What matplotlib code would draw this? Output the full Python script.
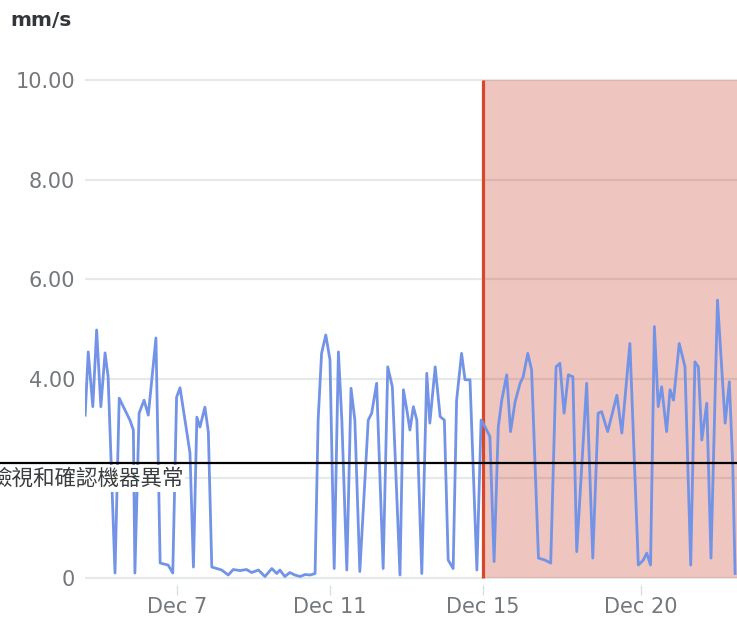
import matplotlib
matplotlib.use("Agg")
import matplotlib.pyplot as plt
import matplotlib.transforms as mtransforms
from matplotlib.lines import Line2D

# vibration speed samples (x = day position on the chart axis, y = mm/s)
t_days = [4.60, 4.68, 4.80, 4.90, 5.01, 5.12, 5.20, 5.38, 5.49, 5.77, 5.86, 5.90, 6.01, 6.14,
          6.25, 6.45, 6.56, 6.77, 6.89, 6.99, 7.08, 7.34, 7.43, 7.52, 7.60, 7.73, 7.82, 7.91,
          8.04, 8.17, 8.34, 8.47, 8.65, 8.82, 8.95, 9.13, 9.30, 9.48, 9.61, 9.69, 9.82, 9.95,
          10.08, 10.22, 10.35, 10.48, 10.61,
          10.69, 10.78, 10.89, 11.00, 11.11, 11.22, 11.31, 11.44, 11.55, 11.65, 11.78, 12.00,
          12.09, 12.22, 12.39, 12.51, 12.63, 12.83, 12.92, 13.01, 13.09, 13.18, 13.27, 13.40,
          13.53, 13.61, 13.75, 13.88, 13.99, 14.09, 14.22, 14.31, 14.44, 14.53, 14.66, 14.84,
          14.95, 15.05, 15.18, 15.29, 15.40, 15.49, 15.62, 15.72, 15.84, 15.97, 16.05, 16.17,
          16.27, 16.45, 16.62, 16.77, 16.91, 17.01, 17.12, 17.23, 17.35, 17.45, 17.71, 17.87,
          18.01, 18.10, 18.26, 18.50, 18.63, 18.84, 19.06, 19.19, 19.28, 19.38, 19.48, 19.58,
          19.67, 19.80, 19.89, 19.98, 20.13, 20.28, 20.43, 20.54, 20.63, 20.72, 20.85, 20.96,
          21.13, 21.33, 21.44, 21.53, 21.59]
speed = [3.27, 4.54, 3.44, 4.98, 3.44, 4.52, 4.04, 0.10, 3.61, 3.17, 2.97, 0.10, 3.31, 3.57,
         3.27, 4.82, 0.30, 0.26, 0.10, 3.63, 3.82, 2.51, 0.22, 3.23, 3.03, 3.43, 2.93, 0.22,
         0.19, 0.16, 0.06, 0.17, 0.15, 0.17, 0.11, 0.16, 0.03, 0.19, 0.09, 0.16, 0.03, 0.11,
         0.06, 0.03, 0.07, 0.06, 0.09,
         3.17, 4.51, 4.88, 4.38, 0.19, 4.54, 3.17, 0.16, 3.81, 3.17, 0.13, 3.17,
         3.31, 3.91, 0.19, 4.24, 3.84, 0.06, 3.78, 3.37, 2.97, 3.44, 3.17, 0.09,
         4.11, 3.11, 4.24, 3.24, 3.17, 0.36, 0.19, 3.57, 4.51, 3.98, 3.98, 0.16,
         3.17, 3.04, 2.84, 0.33, 3.04, 3.57, 4.08, 2.94, 3.54, 3.91, 4.04, 4.51,
         4.18, 0.40, 0.36, 0.30, 4.24, 4.31, 3.31, 4.08, 4.04, 0.53, 3.91, 0.40,
         3.31, 3.34, 2.94, 3.67, 2.91, 4.71, 0.26, 0.36, 0.50, 0.26, 5.05, 3.44,
         3.84, 2.94, 3.78, 3.57, 4.71, 4.24, 0.26, 4.34, 4.24, 2.77, 3.51, 0.40,
         5.58, 3.11, 3.94, 2.24, 0.09]

x_ticks = [7, 11, 15, 19.13]
x_labels = ['Dec 7', 'Dec 11', 'Dec 15', 'Dec 20']
y_ticks = [0, 2, 4, 6, 8, 10]
y_labels = ['0', '2.00', '4.00', '6.00', '8.00', '10.00']
x_range = (4.595, 21.64)
y_range = (-0.15, 10.15)

alarm_start = 15.0
alarm_top = 10
threshold = 2.31
note = '檢視和確認機器異常'
unit = 'mm/s'

plt.rcParams['font.family'] = ['DejaVu Sans']

fig = plt.figure(figsize=(7.37, 6.17), dpi=100)
ax = fig.add_axes([0.1153, 0.0511, 0.8847, 0.8314])

# alarm zone
ax.fill_between([alarm_start, x_range[1]], 0, alarm_top, color='#c8402e', alpha=0.3,
                lw=0, zorder=2)
ax.plot([alarm_start, alarm_start], [0, alarm_top], color='#d9472b', lw=2.3, zorder=3,
        solid_capstyle='butt')

ax.plot(t_days, speed, color='#7393e6', lw=2.0, zorder=4, solid_joinstyle='round')

ax.set_xlim(*x_range)
ax.set_ylim(*y_range)
ax.set_yticks(y_ticks)
ax.set_yticklabels(y_labels)
ax.set_xticks(x_ticks)
ax.set_xticklabels(x_labels)
ax.yaxis.grid(True, color='#e4e9e9', lw=1.6)
ax.set_axisbelow(True)
for s in ax.spines.values():
    s.set_visible(False)
ax.tick_params(axis='y', length=0, pad=7, labelsize=15, labelcolor='#74787c')
ax.tick_params(axis='x', length=7, width=1, color='#d9dede', pad=1.5, labelsize=15,
               labelcolor='#74787c')

fig.text(10 / 737, 1 - 20 / 617, unit, fontsize=14.5, fontweight='bold', color='#33363a',
         ha='left', va='center')

# threshold line across the whole figure, note on a white box below it
trans = mtransforms.blended_transform_factory(fig.transFigure, ax.transData)
fig.add_artist(Line2D([0, 1], [threshold, threshold], transform=trans, color='black', lw=1.6,
                      zorder=12))
fig.text(-0.014, 2.0, note, transform=trans, fontsize=15.5, color='#3a3d40',
         family=['Noto Sans CJK TC', 'DejaVu Sans'], ha='left', va='center', zorder=11,
         bbox=dict(facecolor='white', edgecolor='none', pad=1.5))

fig.savefig('out.png', dpi=100)
